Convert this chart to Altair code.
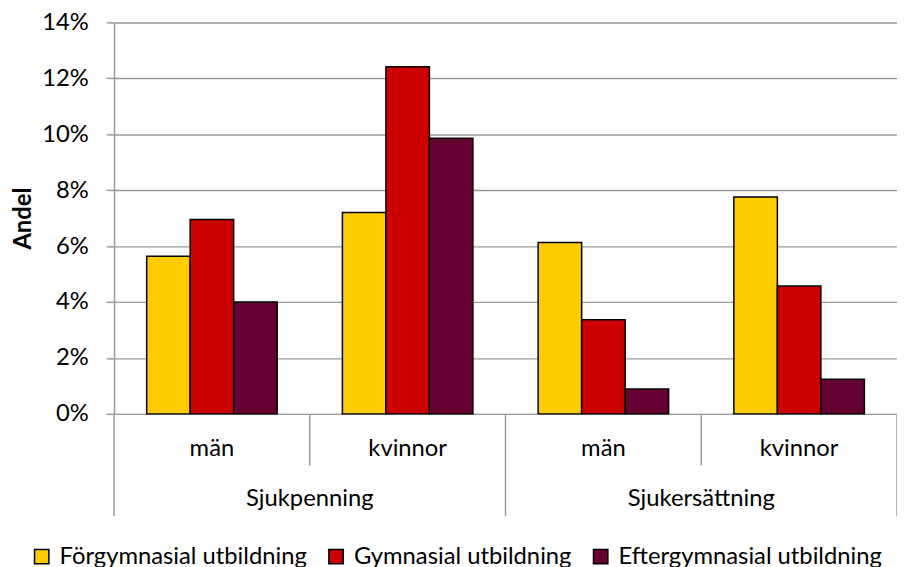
import altair as alt
import pandas as pd

groups = ["Sjukpenning", "Sjukpenning", "Sjukersättning", "Sjukersättning"]
sexes = ["män", "kvinnor", "män", "kvinnor"]
cats = ["Sjukpenning män", "Sjukpenning kvinnor", "Sjukersättning män", "Sjukersättning kvinnor"]
series = ["Förgymnasial utbildning", "Gymnasial utbildning", "Eftergymnasial utbildning"]
forgymn = [0.0564, 0.0720, 0.0613, 0.0776]
gymn = [0.0695, 0.1241, 0.0337, 0.0457]
efter = [0.0400, 0.0986, 0.0089, 0.0124]
colors = ["#FFCC00", "#CC0000", "#660033"]

rows = []
for vals, s in zip([forgymn, gymn, efter], series):
    for c, v in zip(cats, vals):
        rows.append({"cat": c, "serie": s, "andel": v})
df = pd.DataFrame(rows)

cat_df = pd.DataFrame({"cat": cats, "sex": sexes, "grp": groups})

FONT = "Lato"
FS = 24
W, H = 790, 395
GRAY = "#999999"

xsc = alt.Scale(domain=cats, paddingInner=0, paddingOuter=0)

bars = alt.Chart(df).mark_bar(stroke="black", strokeWidth=1.5).encode(
    x=alt.X("cat:N", scale=xsc, axis=None, sort=cats),
    xOffset=alt.XOffset("serie:N", sort=series,
                        scale=alt.Scale(domain=series, paddingInner=0, paddingOuter=0.75)),
    y=alt.Y("andel:Q", scale=alt.Scale(domain=[0, 0.14]),
            axis=alt.Axis(format=".0%", values=[0, 0.02, 0.04, 0.06, 0.08, 0.10, 0.12, 0.14],
                          title="Andel", titleFontWeight="bold", titleFontSize=FS,
                          titleFont=FONT, titleColor="black", titleAngle=-90,
                          titleX=-91, titleY=H / 2, titleBaseline="middle", titleAlign="center",
                          labelFont=FONT, labelFontSize=FS, labelColor="black",
                          labelPadding=18, tickSize=8, tickColor=GRAY, tickWidth=1.5,
                          domainColor=GRAY, domainWidth=1.5,
                          grid=True, gridColor=GRAY, gridWidth=1.5)),
    color=alt.Color("serie:N", sort=series,
                    scale=alt.Scale(domain=series, range=colors),
                    legend=alt.Legend(title=None, orient="none", direction="horizontal",
                                      legendX=-85, legendY=527, columns=3,
                                      symbolType="square", symbolSize=210,
                                      symbolStrokeColor="black", symbolStrokeWidth=1.5,
                                      labelFont=FONT, labelFontSize=FS, labelColor="black",
                                      labelLimit=0, columnPadding=17, labelOffset=6)),
)

sex_text = alt.Chart(cat_df).mark_text(font=FONT, fontSize=FS, color="black", baseline="middle").encode(
    x=alt.X("cat:N", scale=xsc, sort=cats),
    y=alt.value(430),
    text="sex:N",
)

grp_df = cat_df.iloc[[1, 3]]
grp_text = alt.Chart(grp_df).mark_text(font=FONT, fontSize=FS, color="black", baseline="middle").encode(
    x=alt.X("cat:N", scale=xsc, sort=cats, bandPosition=0),
    y=alt.value(481),
    text="grp:N",
)

long_df = cat_df.iloc[[0, 2]]
short_df = cat_df.iloc[[1, 3]]
end_df = cat_df.iloc[[3]]

long_rules = alt.Chart(long_df).mark_rule(color=GRAY, strokeWidth=1.5).encode(
    x=alt.X("cat:N", scale=xsc, sort=cats, bandPosition=0),
    y=alt.value(H), y2=alt.value(H + 103),
)
short_rules = alt.Chart(short_df).mark_rule(color=GRAY, strokeWidth=1.5).encode(
    x=alt.X("cat:N", scale=xsc, sort=cats, bandPosition=0),
    y=alt.value(H), y2=alt.value(H + 52),
)
end_rules = alt.Chart(end_df).mark_rule(color=GRAY, strokeWidth=1.5).encode(
    x=alt.X("cat:N", scale=xsc, sort=cats, bandPosition=1),
    y=alt.value(H), y2=alt.value(H + 103),
)

chart = alt.layer(bars, sex_text, grp_text, long_rules, short_rules, end_rules).properties(
    width=W, height=H,
    autosize=alt.AutoSizeParams(type="none"),
    padding={"left": 107, "top": 12, "right": 0, "bottom": 155},
).configure_view(stroke=None).configure(background="white")

chart.save("out.html", embed_options={"renderer": "svg", "actions": False})
